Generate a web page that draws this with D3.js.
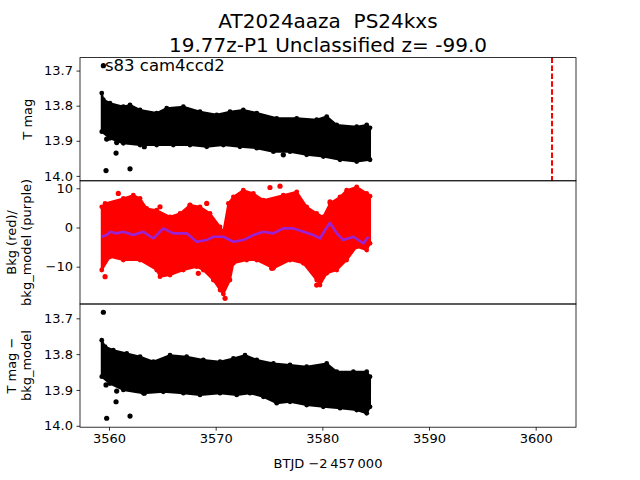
<!DOCTYPE html>
<html>
<head>
<meta charset="utf-8">
<script src="https://cdn.jsdelivr.net/npm/d3@7"></script>
<style>
  body { margin: 0; background: #fff; }
  text { font-family: "DejaVu Sans", sans-serif; fill: #000; }
</style>
</head>
<body>
<div id="chart"></div>
<script>
// values
const titleLines = ["AT2024aaza  PS24kxs", "19.77z-P1 Unclassified z= -99.0"];
const fieldLabel = "s83 cam4ccd2";
const xTicks = [3560, 3570, 3580, 3590, 3600];
const magTicks = [13.7, 13.8, 13.9, 14.0];
const bkgTicks = [10, 0, -10];
const peakTime = 3601.53; // red dashed marker

// T mag: upper / lower edge of the dense band [btjd, mag]
const magTop = [[3559.32,13.764],[3559.47,13.783],[3560.09,13.793],[3561.34,13.803],[3561.97,13.798],[3562.91,13.812],
  [3564.47,13.821],[3565.41,13.807],[3566.97,13.803],[3568.53,13.817],[3570.10,13.826],[3571.34,13.817],[3572.59,13.812],
  [3573.85,13.821],[3575.72,13.836],[3577.60,13.836],[3579.47,13.840],[3580.41,13.831],[3581.35,13.855],[3583.22,13.860],
  [3584.16,13.855],[3584.47,13.863]];
const magBottom = [[3559.32,13.874],[3560.09,13.893],[3561.34,13.907],[3562.91,13.912],[3564.47,13.912],[3566.03,13.912],
  [3567.59,13.912],[3569.16,13.917],[3570.72,13.912],[3572.28,13.917],[3573.85,13.921],[3575.41,13.931],[3576.97,13.931],
  [3578.53,13.940],[3580.09,13.945],[3581.66,13.954],[3583.22,13.959],[3584.47,13.954]];
const magOutliers = [[3559.47,13.686],[3559.78,13.895],[3559.72,13.985],[3560.72,13.905],[3560.66,13.935],
  [3561.97,13.980],[3563.31,13.917],[3576.34,13.940]];

// background flux (red) band edges and stray points
const bkgTop = [[3559.32,5.27],[3559.63,6.14],[3561.34,7.41],[3562.28,8.25],[3562.91,7.41],[3563.53,4.87],[3564.47,4.43],
  [3565.72,2.73],[3566.66,3.59],[3567.59,5.71],[3568.53,5.27],[3569.47,3.59],[3570.41,0.18],[3570.72,-1.10],[3571.19,6.14],
  [3571.66,7.82],[3572.59,9.53],[3573.53,8.69],[3574.47,6.98],[3576.34,8.25],[3577.60,9.10],[3578.53,5.27],[3579.47,3.59],
  [3580.09,2.73],[3580.72,6.14],[3581.66,7.82],[3582.28,9.53],[3583.22,10.37],[3584.16,8.69],[3584.47,8.0]];
const bkgBottom = [[3559.32,-10.85],[3560.09,-7.46],[3561.34,-8.31],[3562.91,-8.31],[3564.47,-10.85],[3564.78,-12.56],
  [3565.72,-12.13],[3566.97,-10.85],[3568.22,-10.0],[3568.84,-10.85],[3569.78,-13.4],[3570.41,-15.95],[3570.72,-17.0],
  [3571.34,-13.4],[3571.66,-9.15],[3572.91,-8.31],[3573.85,-8.31],[3575.41,-10.43],[3576.97,-8.31],[3578.22,-9.15],
  [3579.47,-13.4],[3579.78,-14.68],[3580.41,-11.7],[3581.35,-10.85],[3582.28,-8.31],[3583.22,-4.92],[3584.16,-5.76],
  [3584.47,-4.05]];
const bkgOutliers = [[3560.87,8.69],[3575.09,10.2],[3576.03,10.55],[3559.63,-12.56],[3570.88,-18.06],[3564.78,5.27],
  [3567.59,5.70],[3569.16,6.14],[3568.37,-11.7],[3575.25,-10.43],[3580.72,6.55],[3579.47,-14.7]];
// bkg_model (purple)
const bkgModel = [[3559.32,-2.37],[3559.78,-1.94],[3560.09,-1.10],[3560.72,-1.5],[3561.34,-1.1],[3562.28,-1.94],
  [3563.22,-1.1],[3564.16,-2.8],[3565.09,-0.23],[3566.03,-1.5],[3567.28,-1.5],[3568.22,-3.64],[3569.16,-3.21],
  [3569.78,-2.37],[3570.72,-2.37],[3571.66,-3.64],[3572.59,-3.21],[3573.53,-1.94],[3574.47,-1.1],[3575.41,-1.5],
  [3576.34,-0.23],[3577.28,-0.23],[3578.22,-1.1],[3579.16,-1.94],[3579.78,-2.8],[3580.25,-0.66],[3580.72,1.2],
  [3581.35,-1.5],[3581.97,-3.21],[3582.91,-2.37],[3583.85,-4.05],[3584.31,-2.37]];

// T mag - bkg_model band
const corrTop = [[3559.32,13.761],[3559.63,13.779],[3560.40,13.789],[3561.66,13.798],[3562.91,13.807],[3564.16,13.821],
  [3565.72,13.803],[3567.28,13.807],[3568.84,13.816],[3570.41,13.821],[3571.66,13.812],[3572.75,13.803],[3573.85,13.816],
  [3575.41,13.826],[3576.97,13.830],[3578.53,13.835],[3580.41,13.826],[3581.35,13.849],[3582.91,13.849],[3584.16,13.849],
  [3584.47,13.863]];
const corrBottom = [[3559.32,13.863],[3560.09,13.882],[3561.34,13.900],[3563.22,13.909],[3565.09,13.905],[3566.97,13.909],
  [3568.53,13.914],[3570.41,13.909],[3571.97,13.914],[3573.22,13.909],[3574.47,13.919],[3575.72,13.937],[3576.97,13.933],
  [3578.53,13.942],[3580.09,13.947],[3581.66,13.951],[3583.22,13.956],[3584.16,13.965],[3584.47,13.947]];
const corrOutliers = [[3559.47,13.683],[3559.78,13.979],[3561.97,13.973],[3560.66,13.933],[3560.72,13.903],
  [3559.72,13.886],[3563.31,13.909]];

const width = 640, height = 480;
const mLeft = 80, mRight = 576, mTop = 57.6, panelH = 123.2;

const svg = d3.select("#chart").append("svg")
  .attr("width", width).attr("height", height);

const x = d3.scaleLinear().domain([3557.28, 3603.78]).range([mLeft, mRight]);

const panels = [
  { y: d3.scaleLinear().domain([13.663, 14.014]).range([mTop, mTop + panelH]), ticks: magTicks, fmt: d3.format(".1f"),
    label: ["T mag"] },
  { y: d3.scaleLinear().domain([11.91, -19.52]).range([mTop + panelH, mTop + 2 * panelH]), ticks: bkgTicks,
    fmt: d => d3.format("d")(d).replace("-", "\u2212"), label: ["Bkg (red)/", "bkg_model (purple)"] },
  { y: d3.scaleLinear().domain([13.660, 14.004]).range([mTop + 2 * panelH, mTop + 3 * panelH]), ticks: magTicks,
    fmt: d3.format(".1f"), label: ["T mag \u2212", "bkg_model"] }
];

function band(g, y, upper, lower, color) {
  const poly = upper.concat(lower.slice().reverse());
  g.append("path")
    .datum(poly)
    .attr("d", d3.line().x(d => x(d[0])).y(d => y(d[1])).curve(d3.curveLinearClosed))
    .attr("fill", color).attr("stroke", color)
    .attr("stroke-width", 2).attr("stroke-linejoin", "round");
  g.selectAll(null).data(poly).enter().append("circle")
    .attr("cx", d => x(d[0])).attr("cy", d => y(d[1])).attr("r", 2.4).attr("fill", color);
}

function dots(g, y, pts, color) {
  g.selectAll(null).data(pts).enter().append("circle")
    .attr("cx", d => x(d[0])).attr("cy", d => y(d[1])).attr("r", 2.6).attr("fill", color);
}

// top: T mag
const g0 = svg.append("g");
band(g0, panels[0].y, magTop, magBottom, "#000");
dots(g0, panels[0].y, magOutliers, "#000");
g0.append("line")
  .attr("x1", x(peakTime)).attr("x2", x(peakTime))
  .attr("y1", mTop).attr("y2", mTop + panelH)
  .attr("stroke", "red").attr("stroke-width", 2).attr("stroke-dasharray", "5.5,2.4");
g0.append("text").attr("x", 105).attr("y", 71).attr("font-size", 16.5).text(fieldLabel);

// middle: background
const g1 = svg.append("g");
band(g1, panels[1].y, bkgTop, bkgBottom, "red");
dots(g1, panels[1].y, bkgOutliers, "red");
g1.append("path")
  .datum(bkgModel)
  .attr("d", d3.line().x(d => x(d[0])).y(d => panels[1].y(d[1])))
  .attr("fill", "none").attr("stroke", "#9a22d4").attr("stroke-width", 2.6).attr("stroke-linejoin", "round");

// bottom: corrected
const g2 = svg.append("g");
band(g2, panels[2].y, corrTop, corrBottom, "#000");
dots(g2, panels[2].y, corrOutliers, "#000");

// frames, y axes and labels
const labelX = [[32], [15.5, 31]];
panels.forEach((p, i) => {
  const y0 = p.y.range()[0], y1 = p.y.range()[1];
  svg.append("rect")
    .attr("x", mLeft).attr("y", y0).attr("width", mRight - mLeft).attr("height", y1 - y0)
    .attr("fill", "none").attr("stroke", "#000").attr("stroke-width", 0.8);
  const ax = svg.append("g")
    .attr("transform", `translate(${mLeft},0)`)
    .call(d3.axisLeft(p.y).tickValues(p.ticks).tickFormat(p.fmt).tickSize(3.5).tickPadding(3.5));
  ax.select(".domain").remove();
  ax.selectAll("line").attr("stroke-width", 0.8);
  ax.selectAll("text").attr("font-size", 13).attr("font-family", "DejaVu Sans");
  const cx = p.label.length === 1 ? labelX[0] : labelX[1];
  const cy = (y0 + y1) / 2;
  p.label.forEach((s, k) => {
    svg.append("text")
      .attr("transform", `translate(${cx[k]},${cy}) rotate(-90)`)
      .attr("text-anchor", "middle").attr("font-size", 13).text(s);
  });
});

// shared x axis at bottom
const xa = svg.append("g")
  .attr("transform", `translate(0,${mTop + 3 * panelH})`)
  .call(d3.axisBottom(x).tickValues(xTicks).tickFormat(d3.format("d")).tickSize(3.5).tickPadding(3.5));
xa.select(".domain").remove();
xa.selectAll("line").attr("stroke-width", 0.8);
xa.selectAll("text").attr("font-size", 13).attr("font-family", "DejaVu Sans");

svg.append("text").attr("x", (mLeft + mRight) / 2).attr("y", 468)
  .attr("text-anchor", "middle").attr("font-size", 13)
  .text("BTJD \u22122\u2009457\u2009000");

// title
titleLines.forEach((s, i) => {
  svg.append("text").attr("x", (mLeft + mRight) / 2).attr("y", 27.5 + i * 24.4)
    .attr("text-anchor", "middle").attr("font-size", 20).style("white-space", "pre").text(s);
});
</script>
</body>
</html>
